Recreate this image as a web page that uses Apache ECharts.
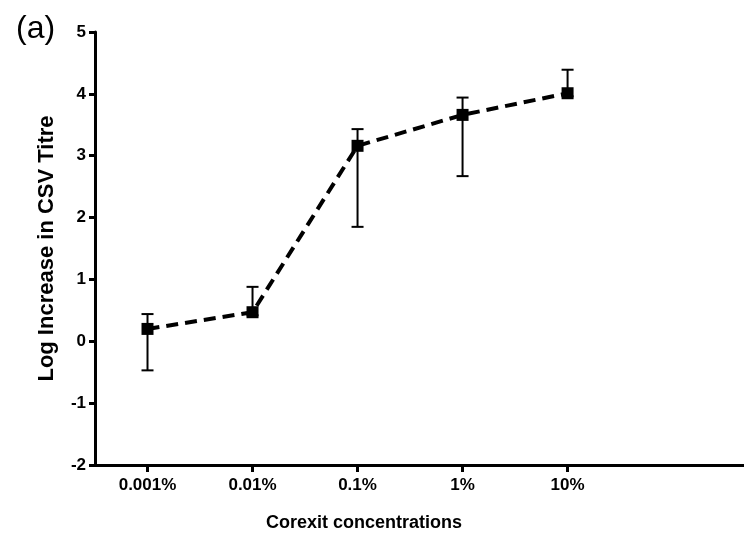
<!DOCTYPE html>
<html>
<head>
<meta charset="utf-8">
<script src="https://cdn.jsdelivr.net/npm/echarts@6/dist/echarts.min.js"></script>
<style>
  html, body { margin: 0; padding: 0; background: #fff; }
  #chart { width: 744px; height: 542px; }
</style>
</head>
<body>
<div id="chart"></div>
<script>
const categories = ['0.001%', '0.01%', '0.1%', '1%', '10%'];
const meanValues = [0.2, 0.47, 3.16, 3.66, 4.01];
const errLow = [-0.47, 0.42, 1.85, 2.67, 3.96];
const errHigh = [0.44, 0.88, 3.43, 3.94, 4.39];
const yTicks = [-2, -1, 0, 1, 2, 3, 4, 5];

const font = '"Liberation Sans", Arial, sans-serif';

const lineData = meanValues.map((v, i) => [i, v]);
const errData = categories.map((c, i) => [i, errLow[i], errHigh[i]]);

function renderErrorBar(params, api) {
  const x = api.value(0);
  const lo = api.coord([x, api.value(1)]);
  const hi = api.coord([x, api.value(2)]);
  const cap = 6;
  const style = {stroke: '#000', lineWidth: 2};
  return {
    type: 'group',
    children: [
      {type: 'line', shape: {x1: lo[0], y1: lo[1], x2: hi[0], y2: hi[1]}, style},
      {type: 'line', shape: {x1: lo[0] - cap, y1: lo[1], x2: lo[0] + cap, y2: lo[1]}, style},
      {type: 'line', shape: {x1: hi[0] - cap, y1: hi[1], x2: hi[0] + cap, y2: hi[1]}, style}
    ]
  };
}

const option = {
  backgroundColor: '#fff',
  animation: false,
  title: [
    {
      text: '(a)',
      left: 11,
      top: 8,
      textStyle: {fontFamily: font, fontSize: 32, fontWeight: 'normal', color: '#000'}
    },
    {
      text: 'Corexit concentrations',
      left: 359,
      top: 509,
      textAlign: 'center',
      textStyle: {fontFamily: font, fontSize: 18, fontWeight: 'bold', color: '#000'}
    }
  ],
  grid: {left: 95, right: 0, top: 32, bottom: 77},
  xAxis: {
    type: 'value',
    min: -0.5,
    max: 5.68,
    splitLine: {show: false},
    axisLine: {show: true, onZero: false, lineStyle: {color: '#000', width: 3}},
    axisTick: {show: true, length: 7, customValues: [0, 1, 2, 3, 4], lineStyle: {color: '#000', width: 3}},
    axisLabel: {
      customValues: [0, 1, 2, 3, 4],
      formatter: v => categories[Math.round(v)] || '',
      fontFamily: font,
      fontSize: 17,
      fontWeight: 'bold',
      color: '#000',
      margin: 12
    }
  },
  yAxis: {
    type: 'value',
    min: -2,
    max: 5,
    interval: 1,
    name: 'Log Increase in CSV Titre',
    nameLocation: 'middle',
    nameGap: 37,
    nameTextStyle: {fontFamily: font, fontSize: 22, fontWeight: 'bold', color: '#000'},
    splitLine: {show: false},
    axisLine: {show: true, onZero: false, lineStyle: {color: '#000', width: 3}},
    axisTick: {show: true, length: 6, lineStyle: {color: '#000', width: 3}},
    axisLabel: {
      customValues: yTicks,
      fontFamily: font,
      fontSize: 17,
      fontWeight: 'bold',
      color: '#000',
      margin: 9
    }
  },
  series: [
    {
      type: 'custom',
      renderItem: renderErrorBar,
      data: errData,
      z: 2
    },
    {
      type: 'line',
      data: lineData,
      symbol: 'rect',
      symbolSize: 12,
      itemStyle: {color: '#000'},
      lineStyle: {color: '#000', width: 4, type: [12, 7]},
      z: 3
    }
  ]
};

const myChart = echarts.init(document.getElementById('chart'));
myChart.setOption(option);
</script>
</body>
</html>
